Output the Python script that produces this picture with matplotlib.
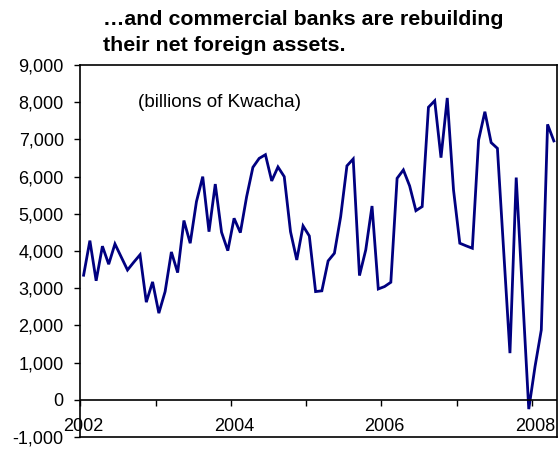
import matplotlib
matplotlib.use("Agg")
import matplotlib.pyplot as plt
import numpy as np

# Monthly net foreign assets of commercial banks, Jan 2002 onwards (billions of Kwacha)
nfa = [3350, 4280, 3200, 4130, 3645, 4190, 3840, 3490, 3700, 3900, 2625, 3170,
       2330, 2910, 3975, 3420, 4820, 4210, 5330, 6000, 4520, 5800, 4505, 4010,
       4880, 4495, 5460, 6250, 6490, 6590, 5885, 6260, 6000, 4520, 3760, 4675,
       4405, 2910, 2930, 3735, 3940, 4925, 6290, 6475, 3340, 4030, 5210, 2980,
       3045, 3160, 5955, 6180, 5750, 5085, 5195, 7865, 8040, 6510, 8115, 5640,
       4210, 4140, 4075, 6985, 7745, 6915, 6760, 4000, 1255, 5975, 2860, -250,
       895, 1880, 7405, 6960]
start_year = 2002
year_labels = ["2002", "2004", "2006", "2008"]
y_ticks = list(range(-1000, 9001, 1000))

title = "\u2026and commercial banks are rebuilding\ntheir net foreign assets."
unit_note = "(billions of Kwacha)"

plt.rcParams["font.family"] = ["Liberation Sans", "DejaVu Sans"]

fig = plt.figure(figsize=(5.6, 4.51), dpi=100)
ax = fig.add_axes([0.1437, 0.031, 0.8509, 0.8248])

months = np.arange(len(nfa))
ax.plot(months, nfa, color="#000080", lw=2.0, solid_joinstyle="miter")

ax.set_xlim(-0.5, len(nfa) - 0.5)
ax.set_ylim(-1000, 9000)
ax.set_yticks(y_ticks)
ax.set_yticklabels([f"{v:,}" for v in y_ticks])
ax.tick_params(axis="y", direction="out", length=4, width=1, pad=8, labelsize=13)
ax.tick_params(axis="x", bottom=False, labelbottom=False)
for sp in ax.spines.values():
    sp.set_linewidth(1.2)
    sp.set_color("black")

# Category axis drawn along the zero line
ax.axhline(0, color="black", lw=1.2)
zero_frac = (0 - (-1000)) / (9000 - (-1000))
sec = ax.secondary_xaxis(zero_frac)
sec.spines["bottom"].set_visible(False)
year_bounds = np.arange(-0.5, len(nfa), 12)
sec.set_xticks(year_bounds)
sec.set_xticklabels([])
sec.tick_params(axis="x", direction="out", length=4, width=1)

label_months = [12 * (int(y) - start_year) for y in year_labels]
for m, lab in zip(label_months, year_labels):
    ax.text(m, -720, lab, ha="center", va="center", fontsize=13)

ax.text(8.7, 8000, unit_note, ha="left", va="center", fontsize=13.6)

fig.text(0.184, 0.978, title, ha="left", va="top", fontsize=15.4,
         fontweight="bold", linespacing=1.45)

fig.savefig("out.png", dpi=100)
